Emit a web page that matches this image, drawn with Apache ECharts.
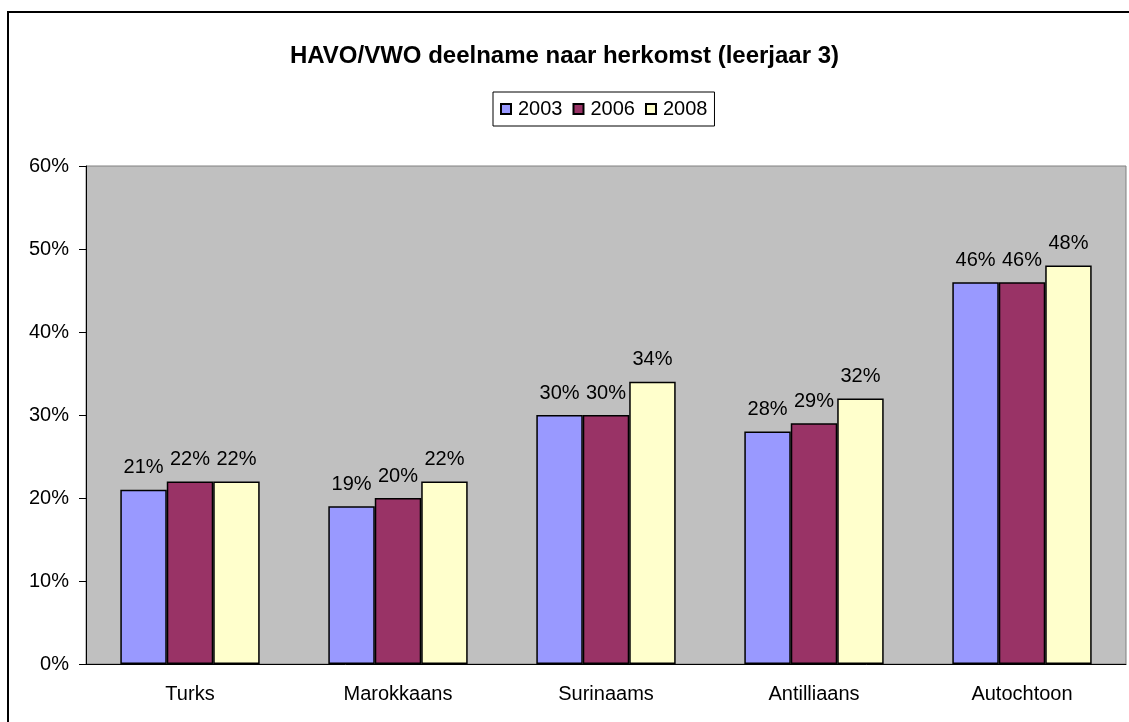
<!DOCTYPE html>
<html>
<head>
<meta charset="utf-8">
<script src="https://cdn.jsdelivr.net/npm/echarts@6/dist/echarts.min.js"></script>
<style>
  html, body { margin: 0; padding: 0; background: #fff; }
  #chart { width: 1129px; height: 722px; }
</style>
</head>
<body>
<div id="chart"></div>
<script>
const categories = ["Turks", "Marokkaans", "Surinaams", "Antilliaans", "Autochtoon"];
const years = ["2003", "2006", "2008"];
const values2003 = [21, 19, 30, 28, 46];
const values2006 = [22, 20, 30, 29, 46];
const values2008 = [22, 22, 34, 32, 48];
const yearColors = ["#9999FF", "#993366", "#FFFFCC"];

const fontFamily = "Liberation Sans, Arial, sans-serif";
const seriesValues = [values2003, values2006, values2008];

const chart = echarts.init(document.getElementById("chart"));

chart.setOption({
  animation: false,
  backgroundColor: "#fff",
  textStyle: { fontFamily },
  title: {
    text: "HAVO/VWO deelname naar herkomst (leerjaar 3)",
    left: "center",
    top: 39,
    textStyle: { fontSize: 24, fontWeight: "bold", color: "#000", fontFamily },
  },
  legend: {
    data: years,
    left: 493,
    top: 92,
    padding: [7, 7, 7, 7],
    borderColor: "#000",
    borderWidth: 1,
    itemWidth: 10,
    itemHeight: 10,
    itemGap: 10,
    icon: "rect",
    textStyle: { fontSize: 20, color: "#000", fontFamily, padding: [0, 0, 0, 2] },
  },
  grid: {
    left: 86,
    right: 3,
    top: 166,
    bottom: 58,
    show: true,
    backgroundColor: "#C0C0C0",
    borderColor: "#808080",
    borderWidth: 1,
  },
  xAxis: {
    type: "category",
    data: categories,
    axisLine: { lineStyle: { color: "#000", width: 1 } },
    axisTick: { length: 6, lineStyle: { color: "#000" } },
    axisLabel: { margin: 20, fontSize: 20, color: "#000", fontFamily },
  },
  yAxis: {
    type: "value",
    min: 0,
    max: 60,
    interval: 10,
    axisLine: { show: true, lineStyle: { color: "#000", width: 1 } },
    axisTick: { show: true, length: 7, lineStyle: { color: "#000" } },
    axisLabel: { margin: 17, fontSize: 20, color: "#000", fontFamily, formatter: "{value}%" },
    splitLine: { show: false },
  },
  series: years.map((year, i) => ({
    name: year,
    type: "bar",
    data: seriesValues[i],
    barGap: "0%",
    barCategoryGap: "33%",
    itemStyle: { color: yearColors[i], borderColor: "#000", borderWidth: 1.5 },
    label: {
      show: true,
      position: "top",
      distance: 12,
      formatter: "{c}%",
      fontSize: 20,
      color: "#000",
      fontFamily,
    },
  })),
  graphic: [
    {
      type: "rect",
      shape: { x: 8, y: 12, width: 1130, height: 720 },
      style: { fill: "none", stroke: "#000", lineWidth: 2 },
      silent: true,
    },
  ],
});
</script>
</body>
</html>
